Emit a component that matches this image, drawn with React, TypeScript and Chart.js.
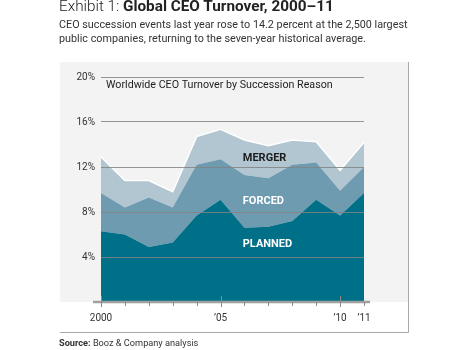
import React, { useEffect, useRef } from "react";
import { Chart, registerables } from "chart.js";

Chart.register(...registerables);

const years = [2000, 2001, 2002, 2003, 2004, 2005, 2006, 2007, 2008, 2009, 2010, 2011];
const planned = [6.3, 6.0, 4.9, 5.3, 7.7, 9.1, 6.6, 6.7, 7.2, 9.1, 7.7, 9.7];
const forced = [3.4, 2.4, 4.4, 3.1, 4.5, 3.6, 4.7, 4.3, 5.0, 3.3, 2.2, 2.3];
const merger = [3.2, 2.4, 1.5, 1.4, 2.5, 2.65, 3.1, 2.9, 2.2, 1.85, 1.8, 2.2];

const yTicks = [0, 4, 8, 12, 16, 20];
const xLabels: Record<number, string> = { 2000: "2000", 2005: "\u201905", 2010: "\u201910", 2011: "\u201911" };
const majorYears = [2000, 2005, 2010];

const seriesNames = ["PLANNED", "FORCED", "MERGER"];
const seriesColors = ["#006f88", "#6f9bb0", "#b1c6d1"];
const labelColors = ["#ffffff", "#ffffff", "#1d1d1d"];
const labelX = 2005.93;
const labelY = [5.16, 8.98, 12.8];

const innerTitle = "Worldwide CEO Turnover by Succession Reason";

const FONT = "Roboto, 'DejaVu Sans', sans-serif";

const decorPlugin = {
  id: "decor",
  beforeDraw(chart: any) {
    const { ctx, scales } = chart;
    const y0 = scales.y.getPixelForValue(0);
    ctx.save();
    ctx.fillStyle = "#f3f3f3";
    ctx.fillRect(0, 0, chart.width - 2, y0);
    ctx.strokeStyle = "#a9a9a9";
    ctx.lineWidth = 1;
    ctx.beginPath();
    ctx.moveTo(chart.width - 1.5, 0);
    ctx.lineTo(chart.width - 1.5, chart.height - 4.5);
    ctx.lineTo(0, chart.height - 4.5);
    ctx.stroke();
    ctx.restore();
  },
  afterDatasetsDraw(chart: any) {
    const { ctx, scales, chartArea } = chart;
    ctx.save();
    ctx.font = `bold 11px ${FONT}`;
    ctx.textBaseline = "middle";
    ctx.textAlign = "left";
    seriesNames.forEach((n, i) => {
      ctx.fillStyle = labelColors[i];
      ctx.fillText(n, scales.x.getPixelForValue(labelX), scales.y.getPixelForValue(labelY[i]));
    });
    ctx.font = `10.7px ${FONT}`;
    ctx.fillStyle = "#1d1d1d";
    ctx.fillText(innerTitle, chartArea.left + 5, chartArea.top + 8);
    ctx.restore();
  },
  afterDraw(chart: any) {
    const { ctx, scales } = chart;
    const xs = scales.x;
    const y0 = scales.y.getPixelForValue(0);
    ctx.save();
    ctx.strokeStyle = "#a0a0a0";
    ctx.lineWidth = 2.5;
    ctx.beginPath();
    ctx.moveTo(xs.getPixelForValue(2000) - 8, y0);
    ctx.lineTo(xs.getPixelForValue(2011) + 6, y0);
    ctx.stroke();
    ctx.strokeStyle = "#8a8a8a";
    ctx.lineWidth = 1;
    years.forEach((yr) => {
      const px = Math.round(xs.getPixelForValue(yr)) + 0.5;
      const major = majorYears.includes(yr);
      ctx.beginPath();
      ctx.moveTo(px, major ? y0 - 6 : y0);
      ctx.lineTo(px, major ? y0 + 5 : y0 + 4);
      ctx.stroke();
    });
    ctx.restore();
  },
};

export default function App() {
  const ref = useRef<HTMLCanvasElement>(null);
  useEffect(() => {
    if (!ref.current) return;
    const series = [planned, forced, merger];
    const chart = new Chart(ref.current, {
      type: "line",
      data: {
        datasets: series.map((s, i) => ({
          label: seriesNames[i],
          data: s.map((v, j) => ({ x: years[j], y: v })),
          backgroundColor: seriesColors[i],
          borderColor: i === 2 ? "#ffffff" : seriesColors[i],
          borderWidth: i === 2 ? 1.5 : 0,
          fill: i === 0 ? "origin" : "-1",
          pointRadius: 0,
          tension: 0,
        })),
      },
      options: {
        animation: false,
        responsive: false,
        maintainAspectRatio: false,
        layout: { padding: { top: 15, right: 46, left: 0, bottom: 0 } },
        plugins: { legend: { display: false }, tooltip: { enabled: false }, title: { display: false } },
        scales: {
          x: {
            type: "linear",
            min: 2000,
            max: 2011,
            grid: { display: false, drawTicks: false },
            border: { display: false },
            afterBuildTicks: (scale: any) => {
              scale.ticks = years.map((v) => ({ value: v }));
            },
            afterFit: (scale: any) => {
              scale.height = 35;
            },
            ticks: {
              autoSkip: false,
              maxRotation: 0,
              padding: 10,
              color: "#333",
              font: { family: FONT, size: 10 },
              callback: (v: any) => xLabels[v as number] ?? "",
            },
          },
          y: {
            stacked: true,
            min: 0,
            max: 20,
            afterBuildTicks: (scale: any) => {
              scale.ticks = yTicks.map((v) => ({ value: v }));
            },
            afterFit: (scale: any) => {
              scale.width = 41;
            },
            grid: {
              z: 1,
              drawTicks: false,
              color: (c: any) => (c.tick && c.tick.value === 0 ? "rgba(0,0,0,0)" : "rgba(130,130,130,0.85)"),
              lineWidth: 1,
            },
            border: { display: false },
            ticks: {
              padding: 6,
              color: "#333",
              font: { family: FONT, size: 10 },
              callback: (v: any) => (v === 0 ? "" : `${v}%`),
            },
          },
        },
      },
      plugins: [decorPlugin],
    } as any);
    return () => chart.destroy();
  }, []);

  return (
    <div
      style={{
        position: "fixed",
        left: 0,
        top: 0,
        width: 468,
        height: 350,
        background: "#fff",
        fontFamily: FONT,
        color: "#222",
      }}
    >
      <div style={{ position: "absolute", left: 59, top: -2, fontSize: 15.3, lineHeight: "17px", whiteSpace: "nowrap" }}>
        <span style={{ fontWeight: 300 }}>Exhibit 1: </span>
        <span style={{ fontWeight: 700 }}>Global CEO Turnover, 2000–11</span>
      </div>
      <div style={{ position: "absolute", left: 59, top: 18, fontSize: 10.8, lineHeight: "14px", color: "#333", whiteSpace: "nowrap" }}>
        CEO succession events last year rose to 14.2 percent at the 2,500 largest
        <br />
        public companies, returning to the seven-year historical average.
      </div>
      <div style={{ position: "absolute", left: 60, top: 62, width: 350, height: 275 }}>
        <canvas ref={ref} width={350} height={275} style={{ width: 350, height: 275, display: "block" }} />
      </div>
      <div style={{ position: "absolute", left: 59, top: 337, fontSize: 9.2, lineHeight: "12px", color: "#333", whiteSpace: "nowrap" }}>
        <span style={{ fontWeight: 700 }}>Source:</span> Booz &amp; Company analysis
      </div>
    </div>
  );
}
